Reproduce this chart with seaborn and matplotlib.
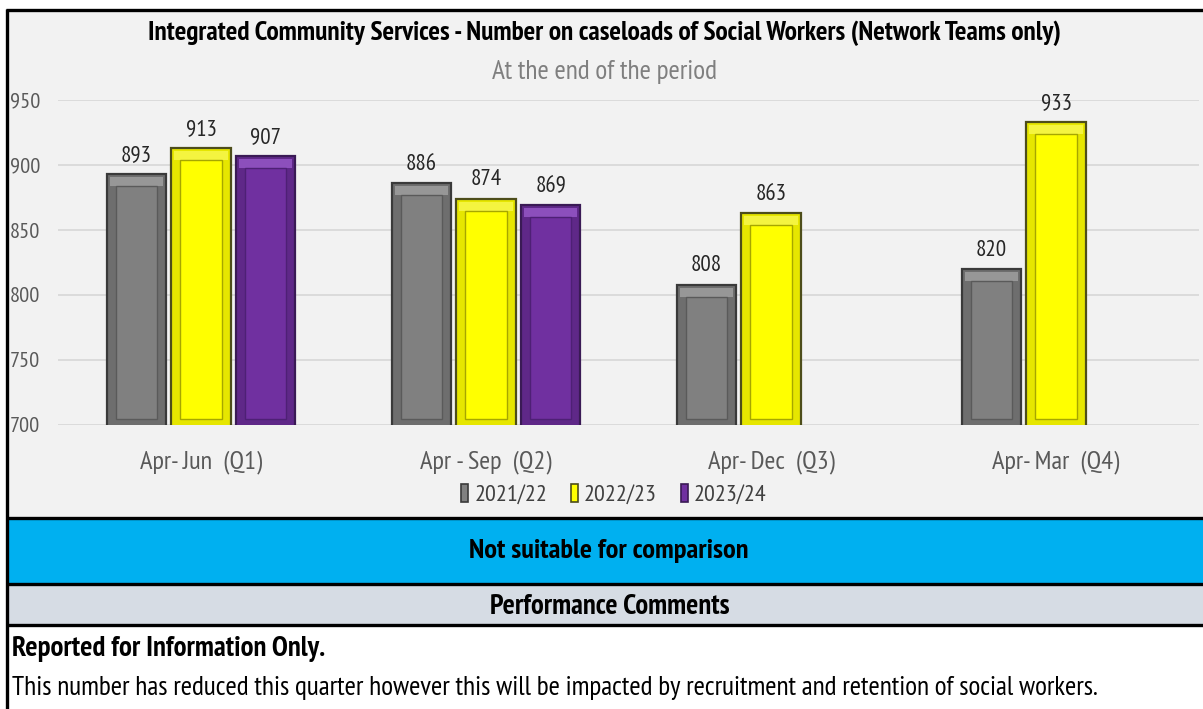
import numpy as np
import pandas as pd
import matplotlib
matplotlib.use("Agg")
import matplotlib.pyplot as plt
import seaborn as sns
from matplotlib import font_manager
from matplotlib.patches import Rectangle, Patch
from matplotlib.lines import Line2D

# ---------------- data ----------------
categories = ["Apr- Jun  (Q1)", "Apr - Sep  (Q2)", "Apr- Dec  (Q3)", "Apr- Mar  (Q4)"]
years = ["2021/22", "2022/23", "2023/24"]
values_2021_22 = [893, 886, 808, 820]
values_2022_23 = [913, 874, 863, 933]
values_2023_24 = [907, 869, None, None]
y_ticks = [700, 750, 800, 850, 900, 950]

title = "Integrated Community Services - Number on caseloads of Social Workers (Network Teams only)"
subtitle = "At the end of the period"
band_text = "Not suitable for comparison"
comments_header = "Performance Comments"
comment_bold = "Reported for Information Only."
comment_text = "This number has reduced this quarter however this will be impacted by recruitment and retention of social workers."

rows = []
for yr, vals in zip(years, [values_2021_22, values_2022_23, values_2023_24]):
    for q, v in zip(categories, vals):
        if v is not None:
            rows.append({"quarter": q, "year": yr, "value": v})
df = pd.DataFrame(rows)

# ---------------- style ----------------
main_cols = ["#808080", "#FFFF00", "#7030A0"]
edge_cols = ["#3A3A3A", "#4D4D1A", "#3A1A55"]
side_cols = ["#6E6E6E", "#E6E600", "#5F2888"]
top_cols = ["#979797", "#F4F440", "#8C4FBC"]
inner_edge = ["#5A5A5A", "#A6A600", "#4E2075"]

sns.set_theme(style="white")
avail = {f.name for f in font_manager.fontManager.ttflist}
base_font = "DejaVu Sans"
for cand in ["PT Sans Narrow", "Open Sans Condensed", "Roboto Condensed", "Archivo Narrow",
             "Liberation Sans Narrow", "Carlito"]:
    if cand in avail:
        base_font = cand
        break
plt.rcParams["font.family"] = [base_font, "DejaVu Sans"]

W, H = 1203, 709
fig = plt.figure(figsize=(W / 100, H / 100), dpi=100)
fig.patch.set_facecolor("white")
renderer = fig.canvas.get_renderer()


def fx(px):
    return px / W


def fy(py):
    return 1 - py / H


def size_for(s, target, weight="normal"):
    t = fig.text(0, 0, s, fontsize=20, fontweight=weight)
    w = t.get_window_extent(renderer).width
    t.remove()
    return 20 * target / w


# backgrounds
def frect(x0, y0, x1, y1, color, z=-10):
    r = Rectangle((fx(x0), fy(y1)), fx(x1) - fx(x0), fy(y0) - fy(y1),
                  transform=fig.transFigure, facecolor=color, edgecolor="none", zorder=z)
    fig.add_artist(r)


frect(8, 10, W, 518, "#F2F2F2")
frect(8, 518, W, 584, "#00B0F0")
frect(8, 584, W, 625, "#D6DCE4")


def fline(x0, y0, x1, y1, lw=2.4):
    fig.add_artist(Line2D([fx(x0), fx(x1)], [fy(y0), fy(y1)], transform=fig.transFigure,
                          color="black", lw=lw, zorder=-5, solid_capstyle="butt"))


fline(6, 10, W, 10)
fline(7, 9, 7, H)
fline(7, 518, W, 518)
fline(7, 584, W, 584)
fline(7, 625, W, 625)

# sizes derived from widths in the reference
fs_ytick = size_for("950", 30)
fs_xtick = size_for(categories[0], 122)
fs_bar = size_for("893", 31)
fs_leg = size_for(years[0], 72)

# ---------------- axes ----------------
ax = fig.add_axes([fx(58.5), fy(425), 1140 / W, 325 / H])
ax.patch.set_alpha(0)

sns.barplot(data=df, x="quarter", y="value", hue="year", order=categories,
            hue_order=years, palette=main_cols, width=0.68, gap=0.08,
            ax=ax, legend=False, saturation=1, zorder=3)

ax.set_xlim(-0.5, len(categories) - 0.5)
ax.set_ylim(y_ticks[0], y_ticks[-1])
ax.set_yticks(y_ticks)
ax.set_xlabel("")
ax.set_ylabel("")
for s in ax.spines.values():
    s.set_visible(False)
ax.grid(axis="y", color="#D9D9D9", lw=1.3, zorder=0)
ax.grid(axis="x", visible=False)
ax.set_axisbelow(True)
ax.tick_params(axis="x", length=0, pad=18, labelsize=fs_xtick, labelcolor="#595959")
ax.tick_params(axis="y", length=0, pad=35, labelsize=fs_ytick, labelcolor="#595959")
for t in ax.get_yticklabels():
    t.set_ha("left")

# pixel scale for bevel decoration
p0 = ax.transData.transform((0, 0))
p1 = ax.transData.transform((1, 1))
sx = p1[0] - p0[0]
sy = p1[1] - p0[1]
ins_x = 9 / sx
ins_top = 12 / sy
ins_bot = 6 / sy
ybase = y_ticks[0]

for i, cont in enumerate(ax.containers):
    for bar in cont:
        h = bar.get_height()
        if not np.isfinite(h):
            continue
        bar.set_facecolor(side_cols[i])
        bar.set_edgecolor(edge_cols[i])
        bar.set_linewidth(1.6)
        x0 = bar.get_x()
        w = bar.get_width()
        top = bar.get_y() + h
        ax.add_patch(Rectangle((x0 + 3 / sx, top - ins_top), w - 6 / sx, ins_top - 3 / sy,
                               facecolor=top_cols[i], edgecolor="none", zorder=3.5))
        ax.add_patch(Rectangle((x0 + ins_x, ybase + ins_bot), w - 2 * ins_x,
                               top - ins_top - ybase - ins_bot,
                               facecolor=main_cols[i], edgecolor=inner_edge[i],
                               lw=1.0, zorder=3.6))
    ax.bar_label(cont, fmt="%d", padding=6, fontsize=fs_bar, color="#262626", zorder=5)

# legend
handles = [Patch(facecolor=main_cols[i], edgecolor=edge_cols[i], lw=1.2) for i in range(3)]
fig.legend(handles, years, loc="center", bbox_to_anchor=(fx(614), fy(495)), ncol=3,
           frameon=False, fontsize=fs_leg, handlelength=0.28, handleheight=0.75,
           handletextpad=0.25, columnspacing=1.0, labelcolor="#404040")

# ---------------- texts ----------------
def fit(t, target):
    w = t.get_window_extent(renderer).width
    t.set_fontsize(t.get_fontsize() * target / w)


t = fig.text(fx(605), fy(33), title, ha="center", va="center", fontweight="bold", fontsize=16, color="black")
fit(t, 915)
t = fig.text(fx(605), fy(72), subtitle, ha="center", va="center", fontsize=16, color="#7F7F7F")
fit(t, 226)
t = fig.text(fx(609), fy(551), band_text, ha="center", va="center", fontweight="bold", fontsize=16, color="black")
fit(t, 278)
t = fig.text(fx(610), fy(607), comments_header, ha="center", va="center", fontweight="bold", fontsize=16, color="black")
fit(t, 239)
t = fig.text(fx(12), fy(649), comment_bold, ha="left", va="center", fontweight="bold", fontsize=16, color="black")
fit(t, 312)
t = fig.text(fx(12), fy(688), comment_text, ha="left", va="center", fontsize=16, color="black")
fit(t, 1085)

fig.savefig("out.png", dpi=100)
